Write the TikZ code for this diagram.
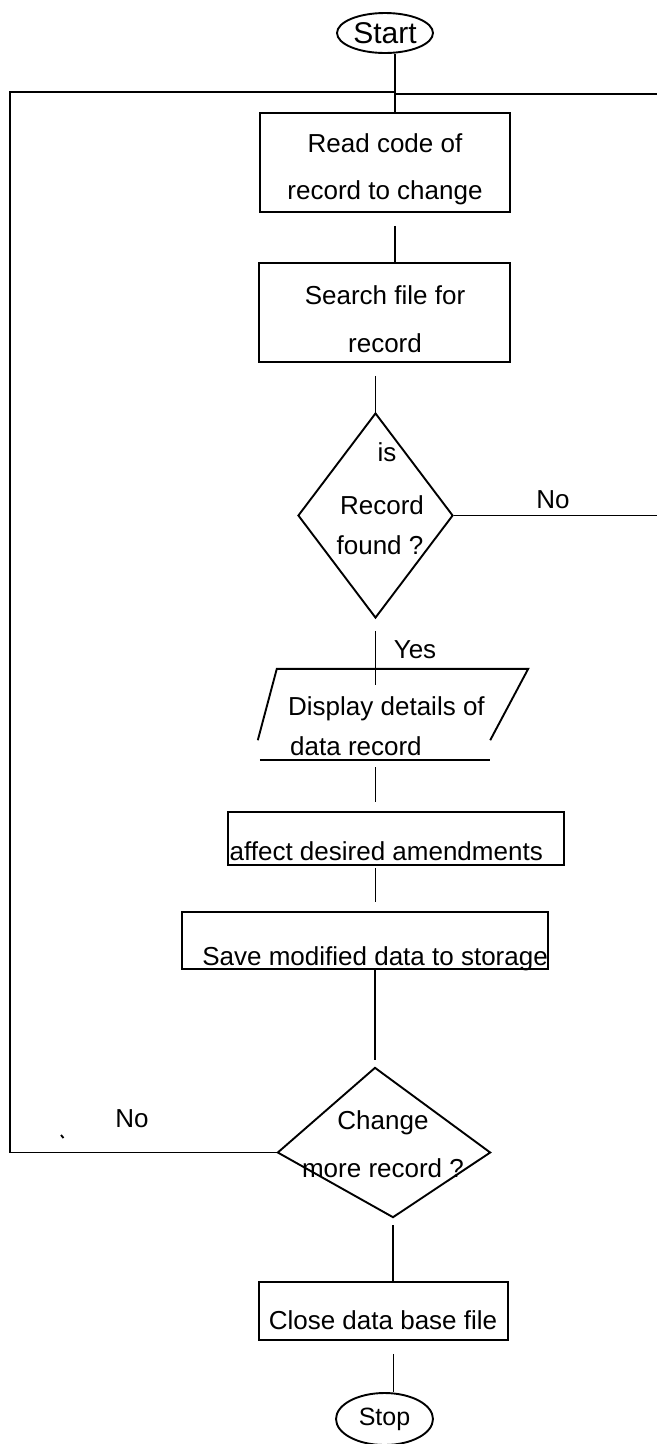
\documentclass[tikz,border=0pt]{standalone}
\usepackage{fontspec}
\setmainfont{Liberation Sans}
\usetikzlibrary{shapes.geometric}
\begin{document}
\begin{tikzpicture}[x=1pt,y=-1pt,
  every node/.style={font=\fontsize{26}{47}\selectfont, inner sep=0pt},
  line/.style={line width=1.9pt},
  procbox/.style={draw, line width=1.9pt, rectangle},
  terminal/.style={draw, line width=1.9pt, ellipse},
  decision/.style={diamond, draw, line width=1.9pt}]
\useasboundingbox (0,0) rectangle (657,1444);

% terminals and process boxes
\node[terminal, minimum width=96, minimum height=40, font=\fontsize{30}{30}\selectfont] (start) at (385,33) {Start};
\node[procbox, minimum width=250, minimum height=99] (read) at (385,162.5) {};
\node[anchor=base] (read1) at (385,152) {Read code of};
\node[anchor=base] (read2) at (385,199) {record to change};
\node[procbox, minimum width=251, minimum height=99] (search) at (384.5,312.5) {};
\node[anchor=base] (search1) at (385,304) {Search file for};
\node[anchor=base] (search2) at (385,352) {record};

% first decision
\node[decision, minimum width=155, minimum height=205] (q1) at (375.5,515.5) {};
\node[anchor=base] (q1a) at (387,461) {is};
\node[anchor=base] (q1b) at (382,514) {Record};
\node[anchor=base] (q1c) at (380,554) {found ?};

% input/output: display details
\node[minimum width=270, minimum height=91] (disp) at (393,714.5) {};
\draw[line] ([yshift=20pt]disp.south west) -- ([xshift=19pt]disp.north west)
  -- (disp.north east) -- ([xshift=-38pt,yshift=20pt]disp.south east);
\draw[line] ([xshift=2pt]disp.south west) -- ([xshift=-38pt]disp.south east);
\node[anchor=base west] (disp1) at (288,715) {Display details of};
\node[anchor=base west] (disp2) at (290,755) {data record};

\node[procbox, minimum width=336, minimum height=53] (affect) at (396,838.5) {};
\node[anchor=base east] (affecttxt) at (543,860) {affect desired amendments};
\node[procbox, minimum width=366, minimum height=57] (save) at (365,940.5) {};
\node[anchor=base east] (savetxt) at (548,965) {Save modified data to storage};

% second decision
\node[diamond, minimum width=212, minimum height=169] (q2) at (384,1152.5) {};
\draw[line] ([xshift=-9pt]q2.north) -- (q2.east) -- ([xshift=9pt,yshift=20pt]q2.south) -- (q2.west) -- cycle;
\node[anchor=base] (q2a) at (383,1129) {Change};
\node[anchor=base] (q2b) at (383,1177) {more record ?};

\node[procbox, minimum width=249, minimum height=58] (close) at (383.5,1311) {};
\node[anchor=base] (closetxt) at (383,1329) {Close data base file};
\node[terminal, minimum width=97, minimum height=52, font=\fontsize{25}{25}\selectfont] (stop) at (384.5,1419) {Stop};

% loop coordinates
\coordinate (loopL) at (10,92);
\coordinate (join) at (395,94);
\coordinate (edgeR) at (657,518);

% connectors
\draw[line] ([xshift=10pt]start.south) -- ([xshift=10pt]start.south |- read.north);
\draw[line, shorten <=13pt] ([xshift=10pt]read.south) -- ([xshift=10pt]read.south |- search.north);
\draw[line, shorten <=13pt] (q1.north |- search.south) -- (q1.north);
\draw[line, shorten <=12pt, shorten >=-16pt] (q1.south) -- (q1.south |- disp.north);
\node (yes) at (415,650) {Yes};
\draw[line] (q1.east) -- (q1.east -| edgeR);
\node (no1) at (553,500) {No};
\draw[line, shorten <=7pt, shorten >=9pt] (q1.south |- disp.south) -- (q1.south |- affect.north);
\draw[line, shorten <=2pt, shorten >=9pt] (q1.south |- affect.south) -- (q1.south |- save.north);
\draw[line, shorten >=8pt] ([xshift=-9pt]q2.north |- save.south) -- ([xshift=-9pt]q2.north);
\draw[line] (q2.west) -| (loopL) -- (loopL -| join);
\draw[line] (join) -- (join -| edgeR);
\node (no2) at (132,1119) {No};
\draw[line] (61,1135) -- (63.5,1138);
\draw[line, shorten <=8pt] ([xshift=9pt,yshift=20pt]q2.south) -- ([xshift=9pt]q2.south |- close.north);
\draw[line, shorten <=13pt] ([xshift=10pt]close.south) -- ([xshift=10pt]close.south |- stop.north);
\end{tikzpicture}
\end{document}
